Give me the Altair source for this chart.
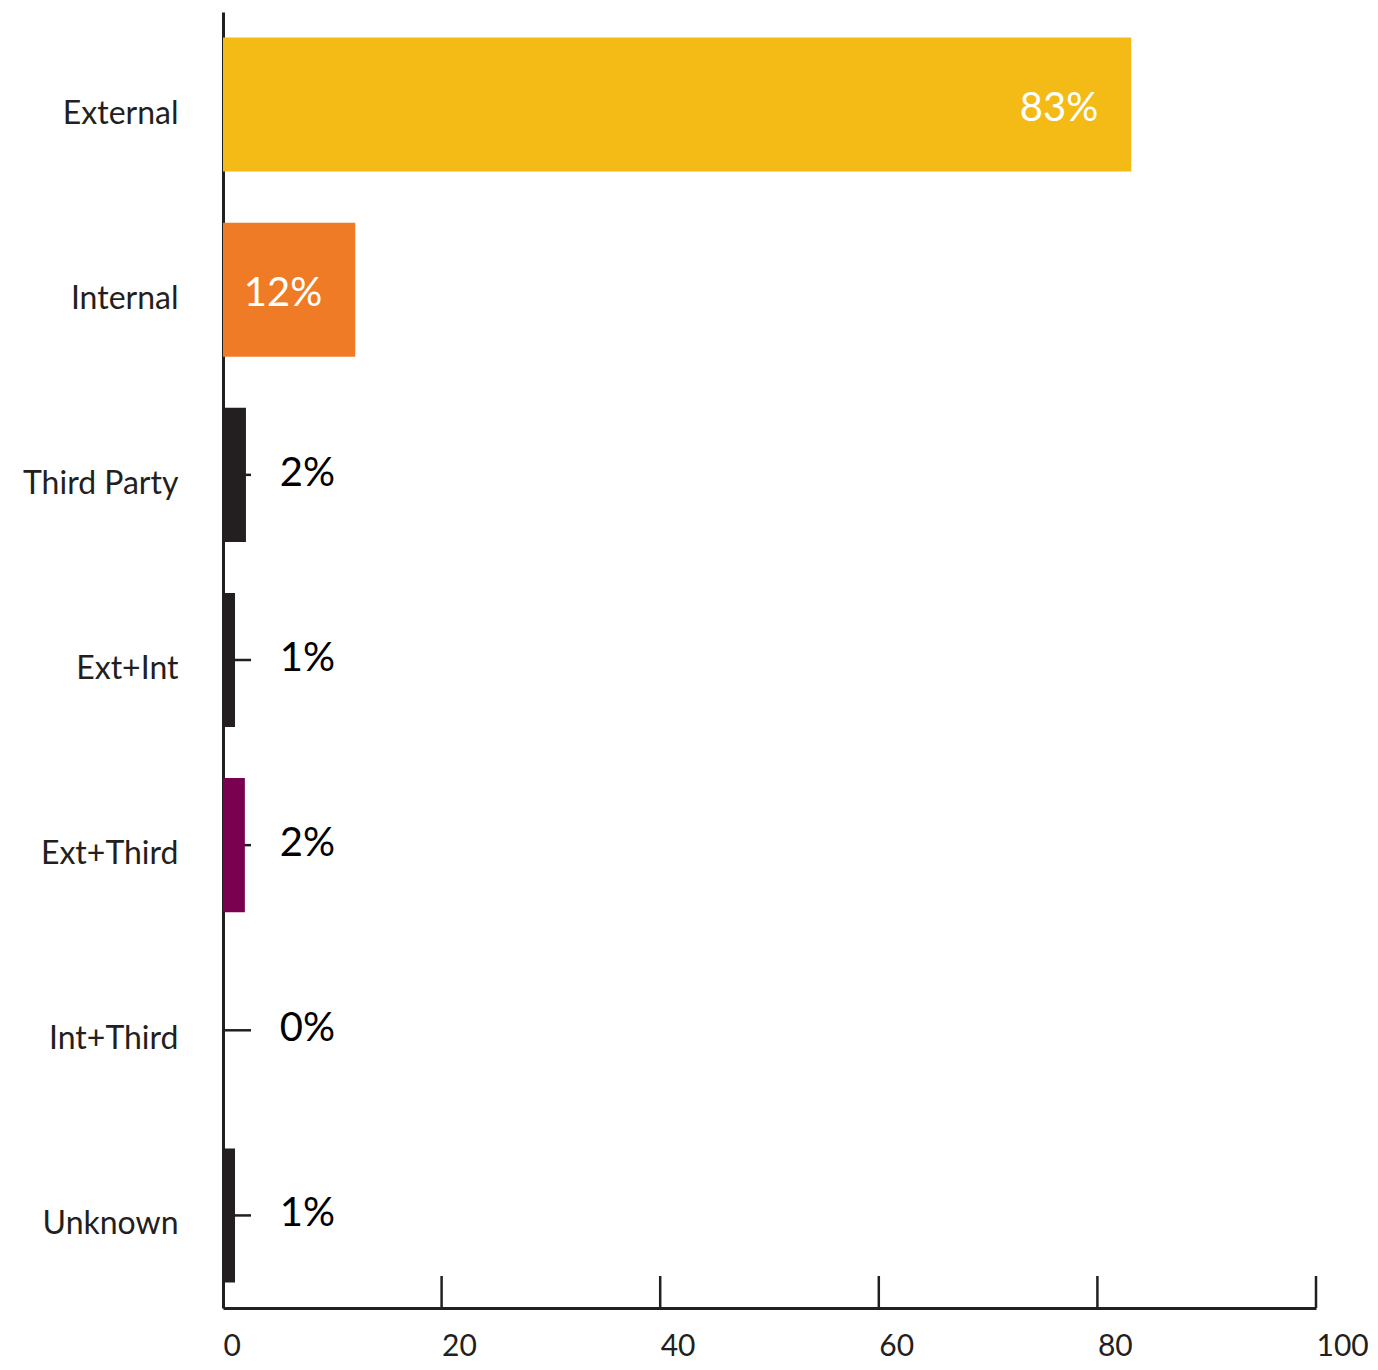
import altair as alt
import pandas as pd

categories = ["External", "Internal", "Third Party", "Ext+Int", "Ext+Third", "Int+Third", "Unknown"]
values = [83.1, 12.1, 2.1, 1.1, 2.0, 0.0, 1.1]
labels = ["83%", "12%", "2%", "1%", "2%", "0%", "1%"]
colors = ["#F4BB17", "#EF7B26", "#231F20", "#231F20", "#7A0050", "#231F20", "#231F20"]
x_ticks = [0, 20, 40, 60, 80, 100]

df = pd.DataFrame({"category": categories, "value": values, "label": labels, "color": colors})
tick_df = pd.DataFrame({"t": x_ticks[1:]})

W, H = 1093, 1296
FONT = "Lato"
INK = "#231F20"

x_scale = alt.Scale(domain=[0, 100], nice=False)
y_scale = alt.Scale(domain=categories, paddingInner=0.276, paddingOuter=0.138)

x_axis = alt.Axis(
    values=x_ticks, title=None, grid=False, ticks=False,
    labelAlign="left", labelBaseline="top", labelPadding=23,
    labelFontSize=30, labelFont=FONT, labelColor=INK,
    domainColor=INK, domainWidth=3,
)
y_axis = alt.Axis(
    title=None, ticks=False, grid=False, labelPadding=45, labelOffset=9,
    labelFontSize=32, labelFont=FONT, labelColor=INK,
    domainColor=INK, domainWidth=3, labelLimit=400,
)

base = alt.Chart(df)

y_enc = alt.Y("category:N", scale=y_scale, sort=categories, axis=y_axis)

yticks = base.mark_rule(color=INK, strokeWidth=2.5).encode(
    y=y_enc, x=alt.value(0), x2=alt.value(28)
)

xticks = alt.Chart(tick_df).mark_rule(color=INK, strokeWidth=2.5).encode(
    x=alt.X("t:Q", scale=x_scale, axis=x_axis), y=alt.value(H - 32), y2=alt.value(H)
)

bars = base.mark_bar().encode(
    x=alt.X("value:Q", scale=x_scale, axis=x_axis),
    y=y_enc,
    color=alt.Color("color:N", scale=None),
)

inside = base.transform_filter("datum.value >= 10").mark_text(
    align="right", baseline="middle", dx=-33, dy=4, color="white", fontSize=40, font=FONT
).encode(x=alt.X("value:Q", scale=x_scale, axis=x_axis), y=y_enc, text="label:N")

outside = base.transform_filter("datum.value < 10").mark_text(
    align="right", baseline="middle", dy=-1, color="#000000", fontSize=40, font=FONT
).encode(x=alt.value(112), y=y_enc, text="label:N")

chart = alt.layer(yticks, xticks, bars, inside, outside).properties(
    width=W, height=H,
    autosize=alt.AutoSizeParams(type="none"),
    padding={"left": 215, "top": 4, "right": 54, "bottom": 54},
).configure_view(stroke=None)

chart.save("out.html", embed_options={"renderer": "svg", "actions": False})
